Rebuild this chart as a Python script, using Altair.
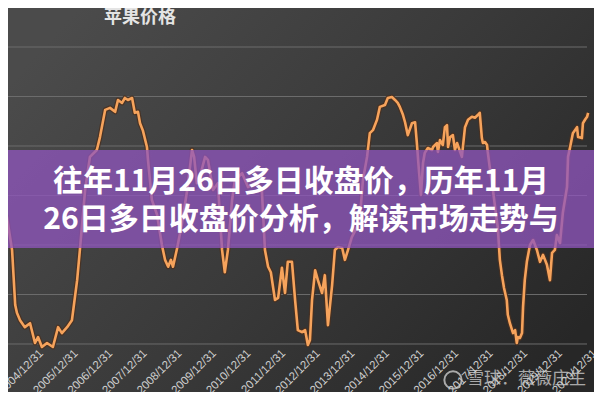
import altair as alt
import pandas as pd

# ---- data ----
years = [
    2003.93, 2004.13, 2004.28, 2004.37, 2004.42, 2004.51, 2004.65, 2004.80, 2004.94, 2005.03,
    2005.14, 2005.29, 2005.46, 2005.61, 2005.72, 2005.87, 2006.01, 2006.16, 2006.24, 2006.39,
    2006.53, 2006.73, 2006.82, 2006.97, 2007.11, 2007.26, 2007.34, 2007.46, 2007.54, 2007.63,
    2007.75, 2007.83, 2007.92, 2007.98, 2008.06, 2008.18, 2008.21, 2008.32, 2008.47, 2008.61,
    2008.70, 2008.79, 2008.87, 2008.93, 2009.05, 2009.19, 2009.34, 2009.48, 2009.54, 2009.62,
    2009.74, 2009.86, 2009.94, 2010.09, 2010.23, 2010.35, 2010.43, 2010.52, 2010.64, 2010.72,
    2010.93, 2011.10, 2011.30, 2011.50, 2011.59, 2011.68, 2011.76, 2011.88, 2011.97, 2012.08,
    2012.17, 2012.25, 2012.37, 2012.46, 2012.54, 2012.66, 2012.75, 2012.83, 2012.89, 2012.95,
    2013.04, 2013.12, 2013.24, 2013.32, 2013.41, 2013.53, 2013.61, 2013.70, 2013.82, 2013.90,
    2013.99, 2014.10, 2014.25, 2014.34, 2014.42, 2014.54, 2014.62, 2014.71, 2014.83, 2014.91,
    2015.06, 2015.14, 2015.26, 2015.35, 2015.43, 2015.49, 2015.58, 2015.64, 2015.72, 2015.84,
    2015.93, 2015.98, 2016.04, 2016.10, 2016.16, 2016.21, 2016.30, 2016.42, 2016.45, 2016.56,
    2016.59, 2016.65, 2016.73, 2016.79, 2016.85, 2016.88, 2016.94, 2017.02, 2017.08, 2017.14,
    2017.28, 2017.31, 2017.37, 2017.46, 2017.57, 2017.66, 2017.75, 2017.80, 2017.86, 2017.89,
    2017.95, 2018.01, 2018.03, 2018.09, 2018.18, 2018.27, 2018.32, 2018.38, 2018.44, 2018.50,
    2018.58, 2018.61, 2018.67, 2018.76, 2018.82, 2018.87, 2018.90, 2018.96, 2019.02, 2019.05,
    2019.10, 2019.16, 2019.25, 2019.34, 2019.45, 2019.54, 2019.63, 2019.74, 2019.83, 2019.89,
    2019.97, 2020.03, 2020.12, 2020.20, 2020.32, 2020.35, 2020.41, 2020.49, 2020.61, 2020.64,
    2020.75, 2020.78, 2020.84, 2020.90, 2020.93,
]
prices = [
    0.48, 2.57, 1.90, 0.79, 0.63, 0.48, 0.34, 0.42, 0.02, 0.14,
    -0.06, 0.02, -0.06, 0.34, 0.22, 0.34, 0.48, 1.29, 1.90, 3.11,
    3.78, 3.92, 4.18, 4.73, 4.77, 4.69, 4.93, 4.87, 4.97, 4.93,
    4.97, 4.67, 4.69, 4.46, 4.32, 3.98, 3.72, 2.91, 2.61, 2.00,
    1.70, 1.56, 1.70, 1.56, 1.94, 2.44, 3.11, 3.92, 3.78, 3.25,
    3.47, 3.78, 3.72, 3.11, 3.25, 1.90, 1.45, 1.90, 2.91, 3.31,
    3.45, 3.17, 3.25, 3.11, 1.90, 1.56, 1.45, 0.89, 0.93, 1.54,
    1.03, 1.66, 1.66, 0.89, 0.28, 0.24, 0.28, -0.02, 0.08, 0.89,
    1.49, 1.29, 1.03, 1.39, 0.38, 1.19, 1.90, 1.96, 1.94, 1.70,
    1.90, 2.16, 2.36, 2.61, 3.31, 3.78, 4.26, 4.32, 4.53, 4.79,
    4.83, 4.97, 4.99, 4.93, 4.87, 4.79, 4.63, 4.48, 4.22, 4.46,
    4.48, 4.08, 3.52, 3.01, 3.66, 3.86, 3.96, 3.92, 3.98, 4.06,
    3.88, 4.12, 4.02, 4.38, 4.42, 3.98, 4.18, 4.22, 3.92, 4.06,
    3.78, 3.98, 4.38, 4.53, 4.59, 4.57, 4.63, 4.67, 4.16, 4.06,
    4.08, 4.02, 3.88, 3.56, 3.11, 2.61, 2.36, 1.70, 1.39, 1.13,
    0.89, 0.59, 0.42, 0.22, 0.28, 0.02, 0.14, 0.12, 0.22, 0.75,
    1.29, 1.66, 2.00, 2.10, 1.90, 1.66, 1.80, 1.60, 1.29, 1.84,
    1.90, 2.20, 2.04, 2.65, 3.17, 3.78, 3.98, 4.26, 4.38, 4.18,
    4.16, 4.46, 4.53, 4.59, 4.67,
]
grid_values = [0, 1, 2, 3, 4, 5, 6]
tick_years = list(range(2004, 2021))
chart_title = "苹果价格"
banner_line1 = "往年11月26日多日收盘价，历年11月"
banner_line2 = "26日多日收盘价分析，解读市场走势与"
watermark = "雪球：薇薇庄生"


def to_ts(yf):
    y = int(yf)
    start = pd.Timestamp(year=y, month=1, day=1)
    end = pd.Timestamp(year=y + 1, month=1, day=1)
    return (start + (end - start) * (yf - y)).floor("D")


df = pd.DataFrame({"date": [to_ts(v) for v in years], "price": prices})
grid_df = pd.DataFrame({"g": grid_values})
one = pd.DataFrame({"k": [0]})

W, H = 586, 384
x_scale = alt.Scale(domain=[alt.DateTime(year=2004, month=2, date=29),
                            alt.DateTime(year=2021, month=2, date=6)])
y_scale = alt.Scale(domain=[-0.97, 6.788], nice=False, zero=False)

bg = alt.Chart(one).mark_rect(
    fill=alt.Gradient(gradient="linear",
                      stops=[alt.GradientStop(color="#4b4b4b", offset=0),
                             alt.GradientStop(color="#3a3a3a", offset=0.5),
                             alt.GradientStop(color="#272727", offset=1)],
                      x1=0, y1=0.2, x2=1, y2=0.8)
).encode(x=alt.value(0), x2=alt.value(W), y=alt.value(0), y2=alt.value(H))

grid = alt.Chart(grid_df).mark_rule(color="#6c6c6c", strokeWidth=1).encode(
    y=alt.Y("g:Q", scale=y_scale, axis=None),
    x=alt.value(0), x2=alt.value(W - 7),
)

x_axis = alt.Axis(
    values=[alt.DateTime(year=y, month=12, date=31) for y in tick_years],
    format="%Y/%m/%d", labelAngle=-45, labelFont="Liberation Sans",
    labelFontSize=11.5, labelColor="#d0d0d0", domain=False, ticks=False,
    grid=False, offset=-48, title=None, labelPadding=3, zindex=2,
    labelOverlap=False, labelFlush=False, labelBound=False,
)
x_enc = alt.X("date:T", scale=x_scale, axis=x_axis)
y_enc = alt.Y("price:Q", scale=y_scale, axis=None)

shadow = alt.Chart(df).mark_line(color="#4a3020", strokeWidth=5, opacity=0.85,
                                 clip=True, strokeJoin="round").encode(x=x_enc, y=y_enc)
line = alt.Chart(df).mark_line(color="#F6A35C", strokeWidth=2.6, clip=True,
                               strokeJoin="round").encode(x=x_enc, y=y_enc)

banner = alt.Chart(one).mark_rect(fill="#8f55bd", opacity=0.76).encode(
    x=alt.value(-10), x2=alt.value(W + 10), y=alt.value(142), y2=alt.value(240))

txt_style = dict(font="Noto Sans CJK SC", fontSize=30, fontWeight="bold",
                 color="#ffffff", align="center", baseline="middle")
t1 = alt.Chart(one).mark_text(**txt_style).encode(
    x=alt.value(293), y=alt.value(174), text=alt.value(banner_line1))
t2 = alt.Chart(one).mark_text(**txt_style).encode(
    x=alt.value(293), y=alt.value(212), text=alt.value(banner_line2))

title = alt.Chart(one).mark_text(font="Noto Sans CJK SC", fontSize=18,
                                 fontWeight="bold", color="#e4e4e4",
                                 align="center", baseline="middle").encode(
    x=alt.value(132), y=alt.value(10), text=alt.value(chart_title))

wm_text = alt.Chart(one).mark_text(font="Noto Sans CJK SC", fontSize=17,
                                   color="#ffffff", opacity=0.6,
                                   align="left", baseline="middle").encode(
    x=alt.value(459), y=alt.value(371), text=alt.value(watermark))
wm_logo = alt.Chart(one).mark_point(shape="circle", filled=False, color="#ffffff",
                                    strokeWidth=2, size=300, opacity=0.6).encode(
    x=alt.value(445), y=alt.value(372))

chart = alt.layer(bg, grid, shadow, line, banner, t1, t2, title, wm_logo, wm_text).properties(
    width=W, height=H,
    autosize=alt.AutoSizeParams(type="none"),
    padding=0,
    background="#3a3a3a",
).configure_view(strokeWidth=0).configure_axis(labelOverlap=False)

chart.save("out.html", embed_options={"renderer": "svg", "actions": False})
